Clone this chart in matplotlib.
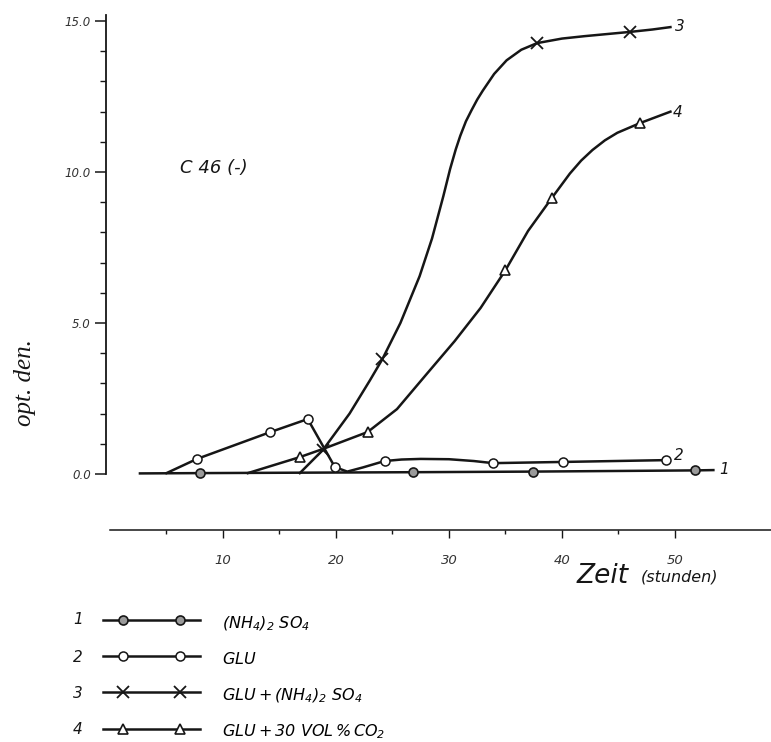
import numpy as np
import matplotlib
matplotlib.use("Agg")
import matplotlib.pyplot as plt
from matplotlib.lines import Line2D
from matplotlib.legend_handler import HandlerLine2D

plt.rcParams['font.family'] = ['DejaVu Sans']
plt.rcParams['mathtext.fontset'] = 'custom'
plt.rcParams['mathtext.rm'] = 'DejaVu Sans:italic'
plt.rcParams['mathtext.it'] = 'DejaVu Sans:italic'
plt.rcParams['mathtext.default'] = 'it'

# ---------------- data ----------------
# 1: (NH4)2 SO4
s1_x = [2.65, 7.96, 26.8, 37.4, 51.8, 53.4]
s1_y = [0.02, 0.03, 0.06, 0.08, 0.12, 0.13]
s1_marks = [1, 2, 3, 4]

# 2: GLU
s2_x = [5.0, 7.7, 14.2, 17.5, 19.9, 21.0, 22.4, 24.3, 25.8, 27.5, 30.0, 32.2, 33.9, 40.1, 49.2]
s2_y = [0.03, 0.5, 1.39, 1.82, 0.23, 0.08, 0.22, 0.43, 0.48, 0.5, 0.49, 0.43, 0.36, 0.4, 0.46]
s2_marks = [1, 2, 3, 4, 7, 12, 13, 14]

# 3: GLU + (NH4)2 SO4
s3_x = [16.8, 18.85, 21.2, 23.0, 24.1, 25.7, 27.4, 28.5, 29.5, 30.1, 30.6, 31.0, 31.5, 32.0,
        32.5, 33.0, 34.0, 35.1, 36.4, 37.8, 40.0, 42.0, 44.0, 46.0, 48.0, 49.6]
s3_y = [0.03, 0.8, 2.0, 3.1, 3.8, 5.0, 6.55, 7.8, 9.2, 10.1, 10.75, 11.2, 11.68, 12.05,
        12.4, 12.7, 13.25, 13.7, 14.05, 14.27, 14.42, 14.5, 14.57, 14.64, 14.72, 14.8]
s3_marks = [1, 4, 19, 23]

# 4: GLU + 30 VOL % CO2
s4_x = [12.2, 16.8, 18.85, 22.8, 25.4, 28.0, 30.5, 32.8, 35.0, 37.0, 39.1, 40.7, 41.7, 42.7,
        43.8, 44.9, 46.9, 49.6]
s4_y = [0.03, 0.56, 0.83, 1.39, 2.15, 3.3, 4.4, 5.5, 6.75, 8.05, 9.14, 9.95, 10.38, 10.73,
        11.05, 11.3, 11.62, 12.0]
s4_marks = [1, 3, 8, 10, 16]

series_numbers = ['1', '2', '3', '4']
series_labels = [r'$(NH_4)_2\ SO_4$', r'$GLU$', r'$GLU+(NH_4)_2\ SO_4$', r'$GLU+30\ VOL\,\%\,CO_2$']

y_major = [0, 5, 10, 15]
y_major_labels = ['0.0', '5.0', '10.0', '15.0']
x_major = [10, 20, 30, 40, 50]
x_minor = [5, 15, 25, 35, 45]

# ---------------- figure ----------------
W, H = 771, 742
fig = plt.figure(figsize=(W / 100, H / 100), dpi=100)
fig.patch.set_facecolor('white')


def fx(px):
    return px / W


def fy(py):
    return 1 - py / H


ax_left, ax_right, ax_top, ax_bot = 106, 771, 12, 530
ax = fig.add_axes([fx(ax_left), fy(ax_bot), (ax_right - ax_left) / W, (ax_bot - ax_top) / H])
ax.set_xlim(-0.354, 58.5)
ax.set_ylim(-1.854, 15.3)
ax.patch.set_alpha(0)

ink = '#161616'
for s in ['top', 'right']:
    ax.spines[s].set_visible(False)
ax.spines['left'].set_bounds(0, 15.2)
ax.spines['bottom'].set_bounds(0, 58.5)
ax.spines['left'].set_color(ink)
ax.spines['bottom'].set_color(ink)
ax.spines['left'].set_linewidth(1.3)
ax.spines['bottom'].set_linewidth(1.1)

ax.set_yticks(y_major, y_major_labels)
ax.set_yticks([v for v in range(0, 16) if v not in y_major], minor=True)
ax.set_xticks(x_major, [str(v) for v in x_major])
ax.set_xticks(x_minor, minor=True)
ax.tick_params(axis='y', which='major', direction='out', length=8, width=1.1, pad=3,
               labelsize=8.5, labelcolor='#333333', color=ink)
ax.tick_params(axis='y', which='minor', direction='out', length=4, width=1.0, color=ink)
ax.tick_params(axis='x', which='major', direction='out', length=6, width=1.0, pad=11,
               labelsize=9.5, labelcolor='#333333', color=ink)
ax.tick_params(axis='x', which='minor', direction='out', length=3, width=1.0, color=ink)
for lab in ax.get_xticklabels() + ax.get_yticklabels():
    lab.set_fontstyle('italic')

lw = 1.8
l1, = ax.plot(s1_x, s1_y, color=ink, lw=lw, marker='o', markevery=s1_marks, ms=6.5,
              mfc='#9a9a9a', mec=ink, mew=1.2, zorder=3)
l2, = ax.plot(s2_x, s2_y, color=ink, lw=lw, marker='o', markevery=s2_marks, ms=6.5,
              mfc='white', mec=ink, mew=1.1, zorder=4)
l3, = ax.plot(s3_x, s3_y, color=ink, lw=lw, marker='x', markevery=s3_marks, ms=9,
              mec=ink, mew=1.3, zorder=5)
l4, = ax.plot(s4_x, s4_y, color=ink, lw=lw, marker='^', markevery=s4_marks, ms=7,
              mfc='white', mec=ink, mew=1.2, zorder=4)

# end-of-curve numbers
end_pos = [(53.9, 0.15), (49.9, 0.62), (50.0, 14.82), (49.8, 11.98)]
for num, (xx, yy) in zip(series_numbers, end_pos):
    ax.text(xx, yy, num, ha='left', va='center', fontsize=11, fontstyle='italic', color=ink)

# texts
fig.text(fx(180), fy(168), 'C 46 (-)', ha='left', va='center', fontsize=13,
         fontstyle='italic', color=ink)
fig.text(fx(25), fy(383), 'opt. den.', rotation=90, ha='center', va='center',
         family='Liberation Serif', fontstyle='italic', fontsize=18, color=ink)
fig.text(fx(577), fy(583), 'Zeit', ha='left', va='baseline', fontsize=19,
         fontstyle='italic', color=ink)
fig.text(fx(641), fy(582), '(stunden)', ha='left', va='baseline', fontsize=11.5,
         fontstyle='italic', color=ink)


class SampleHandler(HandlerLine2D):
    def create_artists(self, legend, orig_handle, xdescent, ydescent, width, height,
                       fontsize, trans):
        xdata = -xdescent + width * np.array([0.0, 0.21, 0.79, 1.0])
        ydata = np.full_like(xdata, (height - ydescent) / 2)
        legline = Line2D(xdata, ydata)
        self.update_prop(legline, orig_handle, legend)
        legline.set_markevery([1, 2])
        legline.set_transform(trans)
        return [legline]


fs_leg = 11.5
fs_px = fs_leg * 100 / 72
leg = fig.legend([l1, l2, l3, l4], series_labels, loc='center left',
                 bbox_to_anchor=(fx(103), fy(677)), frameon=False, fontsize=fs_leg,
                 borderpad=0, borderaxespad=0, handlelength=97 / fs_px,
                 handletextpad=22 / fs_px, handleheight=1.6, labelspacing=0.97,
                 handler_map={Line2D: SampleHandler()})

row_y = [620, 657, 693, 729]
for num, yy in zip(series_numbers, row_y):
    fig.text(fx(78), fy(yy), num, ha='center', va='center', fontsize=11,
             fontstyle='italic', color=ink)

fig.savefig('out.png', dpi=100, facecolor='white')
